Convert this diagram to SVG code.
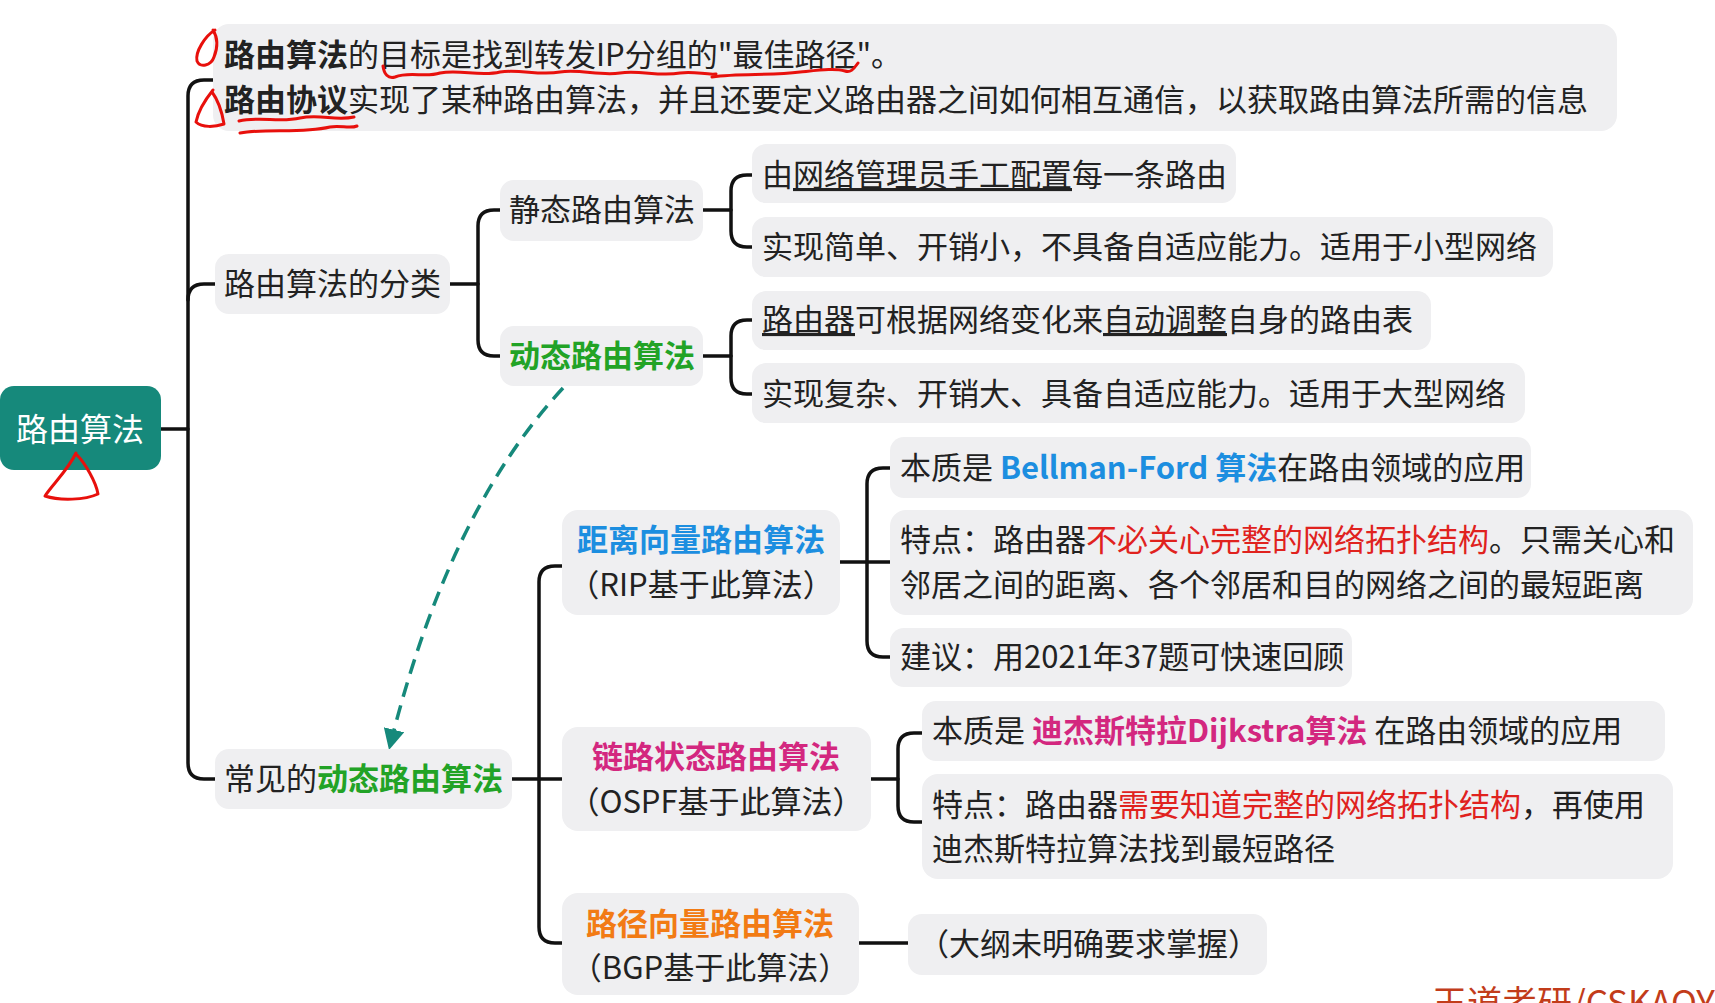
<svg xmlns="http://www.w3.org/2000/svg" width="1715" height="1003" viewBox="0 0 1715 1003">
<defs>
<style>
.box{fill:#efeff1;}
.t{font-family:"Noto Sans CJK SC","Noto Sans",sans-serif;font-size:31px;fill:#222;}
.tt{font-family:"Noto Sans CJK SC","Noto Sans",sans-serif;font-size:31px;fill:#222;}
.c{text-anchor:middle;}
.b{font-weight:bold;}
.green{fill:#22a326;font-weight:bold;}
.blue{fill:#1c8ee0;font-weight:bold;}
.mag{fill:#d3277f;font-weight:bold;}
.org{fill:#f27b14;font-weight:bold;}
.red{fill:#e0221e;}
.u{text-decoration:underline;}
.conn path{fill:none;stroke:#111;stroke-width:3.5;stroke-linecap:round;}
.ink{fill:none;stroke:#e8100c;stroke-width:3;stroke-linecap:round;stroke-linejoin:round;}
</style>
<marker id="ah" viewBox="0 0 10 10" refX="8" refY="5" markerWidth="6" markerHeight="6" orient="auto" markerUnits="strokeWidth">
<path d="M0,0 L10,5 L0,10 z" fill="#16897b"/>
</marker>
</defs>
<rect width="1715" height="1003" fill="#ffffff"/>

<g id="connectors" class="conn">
<path d="M161,429 H188"/>
<path d="M213,80 H204 Q188,80 188,96 V763 Q188,779 204,779 H215"/>
<path d="M188,300 Q188,284 204,284 H215"/>
<path d="M450,284 H478"/>
<path d="M500,210 H494 Q478,210 478,226 V340 Q478,356 494,356 H500"/>
<path d="M703,210 H731"/>
<path d="M752,175 H747 Q731,175 731,191 V231 Q731,247 747,247 H752"/>
<path d="M703,356 H731"/>
<path d="M752,320 H747 Q731,320 731,336 V378 Q731,394 747,394 H752"/>
<path d="M512,779 H562"/>
<path d="M562,566 H555 Q539,566 539,582 V927 Q539,943 555,943 H562"/>
<path d="M840,562 H890"/>
<path d="M890,468 H883 Q867,468 867,484 V641 Q867,657 883,657 H890"/>
<path d="M871,779 H898"/>
<path d="M922,733 H914 Q898,733 898,749 V806 Q898,822 914,822 H922"/>
<path d="M859,943 H908"/>
<path d="M563,388 Q448,512 390,746" style="stroke:#16897b;stroke-dasharray:15 9;stroke-linecap:butt" marker-end="url(#ah)"/>
</g>

<g id="n-root">
<rect x="0" y="386" width="161" height="84" rx="14" fill="#16897b"/>
<text class="t c" x="80" y="441" style="fill:#ffffff;font-size:32px">路由算法</text>
</g>

<g id="n-top">
<rect class="box" x="213" y="24" width="1404" height="107" rx="16"/>
<text class="tt" x="224" y="66"><tspan class="b">路由算法</tspan>的目标是找到转发IP分组的"最佳路径"。</text>
<text class="tt" x="224" y="111"><tspan class="b">路由协议</tspan>实现了某种路由算法，并且还要定义路由器之间如何相互通信，以获取路由算法所需的信息</text>
</g>

<g id="n-class">
<rect class="box" x="215" y="254" width="235" height="60" rx="14"/>
<text class="t" x="224" y="295">路由算法的分类</text>
</g>

<g id="n-static">
<rect class="box" x="500" y="180" width="203" height="61" rx="14"/>
<text class="t" x="509" y="221">静态路由算法</text>
</g>

<g id="n-dynamic">
<rect class="box" x="500" y="326" width="203" height="60" rx="14"/>
<text class="t green" x="509" y="367">动态路由算法</text>
</g>

<g id="n-s1">
<rect class="box" x="752" y="144" width="484" height="59" rx="14"/>
<text class="t" x="762" y="186">由<tspan class="u">网络管理员手工配置</tspan>每一条路由</text>
</g>

<g id="n-s2">
<rect class="box" x="752" y="217" width="801" height="60" rx="14"/>
<text class="t" x="762" y="258">实现简单、开销小，不具备自适应能力。适用于小型网络</text>
</g>

<g id="n-d1">
<rect class="box" x="752" y="291" width="679" height="59" rx="14"/>
<text class="t" x="762" y="331"><tspan class="u">路由器</tspan>可根据网络变化来<tspan class="u">自动调整</tspan>自身的路由表</text>
</g>

<g id="n-d2">
<rect class="box" x="752" y="363" width="773" height="60" rx="14"/>
<text class="t" x="762" y="405">实现复杂、开销大、具备自适应能力。适用于大型网络</text>
</g>

<g id="n-common">
<rect class="box" x="215" y="749" width="297" height="60" rx="14"/>
<text class="t" x="224" y="790">常见的<tspan class="green">动态路由算法</tspan></text>
</g>

<g id="n-dv">
<rect class="box" x="562" y="510" width="278" height="105" rx="16"/>
<text class="t c blue" x="701" y="551">距离向量路由算法</text>
<text class="t c" x="701" y="596">（RIP基于此算法）</text>
</g>

<g id="n-ls">
<rect class="box" x="562" y="727" width="309" height="104" rx="16"/>
<text class="t c mag" x="716" y="768">链路状态路由算法</text>
<text class="t c" x="716" y="813">（OSPF基于此算法）</text>
</g>

<g id="n-pv">
<rect class="box" x="562" y="893" width="297" height="102" rx="16"/>
<text class="t c org" x="710" y="935">路径向量路由算法</text>
<text class="t c" x="710" y="979">（BGP基于此算法）</text>
</g>

<g id="n-dv1">
<rect class="box" x="890" y="437" width="641" height="61" rx="14"/>
<text class="t" x="900" y="479">本质是 <tspan class="blue">Bellman-Ford 算法</tspan>在路由领域的应用</text>
</g>

<g id="n-dv2">
<rect class="box" x="890" y="510" width="803" height="105" rx="16"/>
<text class="t" x="900" y="551">特点：路由器<tspan class="red">不必关心完整的网络拓扑结构</tspan>。只需关心和</text>
<text class="t" x="900" y="596">邻居之间的距离、各个邻居和目的网络之间的最短距离</text>
</g>

<g id="n-dv3">
<rect class="box" x="890" y="628" width="462" height="59" rx="14"/>
<text class="t" x="900" y="668">建议：用2021年37题可快速回顾</text>
</g>

<g id="n-ls1">
<rect class="box" x="922" y="701" width="743" height="60" rx="14"/>
<text class="t" x="932" y="742">本质是 <tspan class="mag">迪杰斯特拉Dijkstra算法</tspan> 在路由领域的应用</text>
</g>

<g id="n-ls2">
<rect class="box" x="922" y="774" width="751" height="105" rx="16"/>
<text class="t" x="932" y="816">特点：路由器<tspan class="red">需要知道完整的网络拓扑结构</tspan>，再使用</text>
<text class="t" x="932" y="860">迪杰斯特拉算法找到最短路径</text>
</g>

<g id="n-pv1">
<rect class="box" x="908" y="914" width="359" height="61" rx="14"/>
<text class="t" x="918" y="955">（大纲未明确要求掌握）</text>
</g>

<g id="ink">
<path class="ink" d="M215,30 C205,36 195,52 197,61 C200,68 211,66 214,57 C218,47 218,38 213,30"/>
<path class="ink" d="M213,90 C205,100 198,112 196,122 C202,128 215,127 224,124 C222,112 218,100 212,92"/>
<path class="ink" d="M239,121 C260,116 280,123 300,118 C320,114 336,121 354,117 M240,133 C268,128 300,134 330,127 C340,125 350,129 357,126"/>
<path class="ink" d="M383,66 C384,74 388,79 395,77 C410,71 425,78 440,73 C460,69 480,77 500,72 C520,69 540,76 560,72 C580,69 600,76 620,73 C640,70 660,77 680,73 C695,71 705,75 716,74"/>
<path class="ink" d="M712,77 C740,73 770,76 800,72 C820,70 835,68 845,71 C850,73 853,70 858,63"/>
<path class="ink" d="M76,453 C68,470 52,485 45,496 C60,501 85,500 98,494 C96,482 85,463 77,455"/>
</g>

<text x="1432" y="1016" style="font-family:'Noto Sans CJK SC','Noto Sans',sans-serif;font-size:35px;fill:#c23c1a">王道考研/CSKAOYAN.COM</text>
</svg>
